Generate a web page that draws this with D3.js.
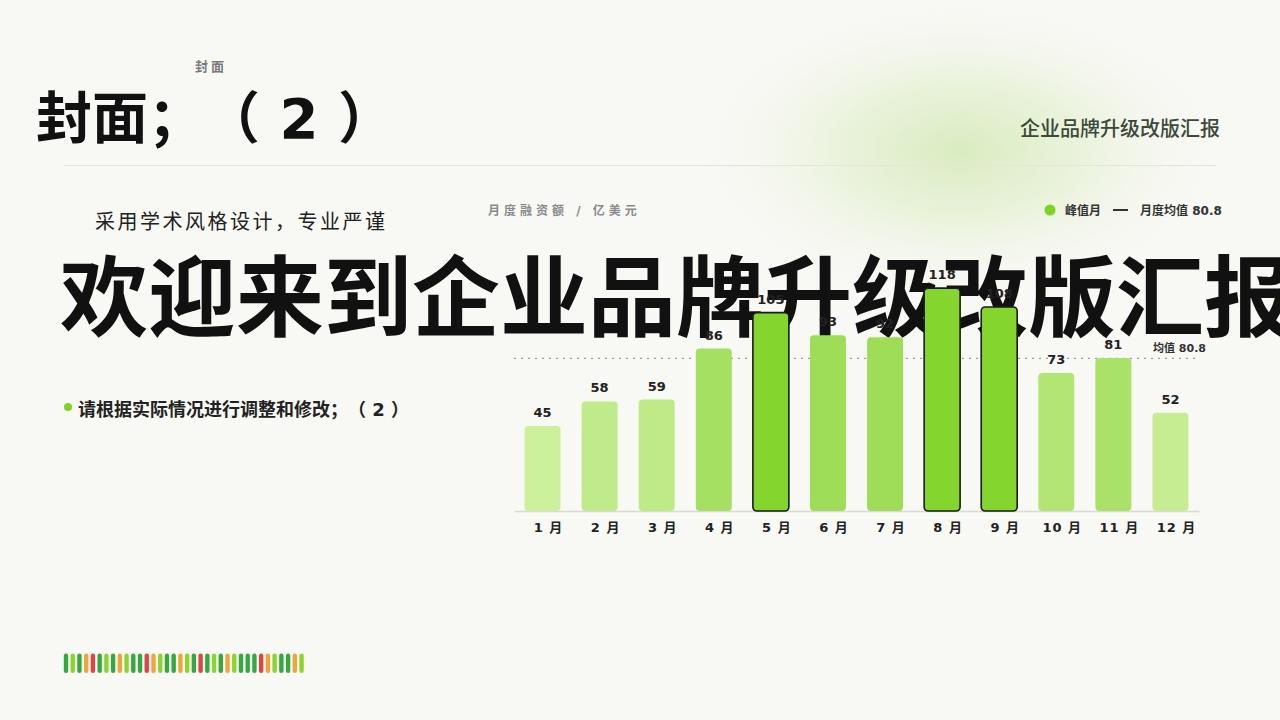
<!DOCTYPE html>
<html>
<head>
<meta charset="utf-8">
<script src="https://cdn.jsdelivr.net/npm/d3@7/dist/d3.min.js"></script>
<style>
  html, body { margin: 0; padding: 0; background: #f8f8f4; }
  svg { display: block; font-family: "DejaVu Sans", "Noto Sans CJK SC", sans-serif; text-spacing-trim: space-all; }
  svg text { text-spacing-trim: space-all; }
</style>
</head>
<body>
<svg id="c" width="1280" height="720"></svg>
<script>
const months = ["1 月","2 月","3 月","4 月","5 月","6 月","7 月","8 月","9 月","10 月","11 月","12 月"];
const values = [45, 58, 59, 86, 105, 93, 92, 118, 108, 73, 81, 52];
const peakMonths = ["5 月", "8 月", "9 月"];
const avgValue = 80.8;
const stripColors = ["dg","lg","dg","or","red","dg","lg","dg","or","lg","dg","dg","red","or","lg","dg","dg","or","lg","dg","red","dg","lg","dg","or","lg","dg","dg","dg","red","or","lg","dg","dg","or","lg"];

const svg = d3.select("#c");
const defs = svg.append("defs");

// background
svg.append("rect").attr("width", 1280).attr("height", 720).attr("fill", "#f8f8f4");

// glow
const rg = defs.append("radialGradient").attr("id", "glow");
rg.append("stop").attr("offset", "0%").attr("stop-color", "#d8ebbd").attr("stop-opacity", 0.95);
rg.append("stop").attr("offset", "45%").attr("stop-color", "#e3f0d0").attr("stop-opacity", 0.7);
rg.append("stop").attr("offset", "100%").attr("stop-color", "#f8f8f4").attr("stop-opacity", 0);
svg.append("ellipse").attr("cx", 960).attr("cy", 150).attr("rx", 265).attr("ry", 150).attr("fill", "url(#glow)");

// header
svg.append("text").attr("x", 211).attr("y", 66).attr("text-anchor", "middle").attr("dominant-baseline", "central")
  .attr("font-size", 13).attr("font-weight", 700).attr("fill", "#7a7a7a").attr("letter-spacing", 3).text("封面");
svg.append("text").attr("x", 36).attr("y", 118).attr("dominant-baseline", "central")
  .attr("font-size", 56).attr("font-weight", 700).attr("fill", "#111").text("封面；（ 2 ）");
svg.append("text").attr("x", 1220).attr("y", 129).attr("text-anchor", "end").attr("dominant-baseline", "central")
  .attr("font-size", 20).attr("font-weight", 500).attr("fill", "#3c4838").text("企业品牌升级改版汇报");
svg.append("line").attr("x1", 64).attr("x2", 1216).attr("y1", 165.5).attr("y2", 165.5)
  .attr("stroke", "#e3e5de").attr("stroke-width", 1.2);

svg.append("text").attr("x", 95).attr("y", 222).attr("dominant-baseline", "central")
  .attr("font-size", 20).attr("fill", "#222").attr("letter-spacing", 2.5).text("采用学术风格设计，专业严谨");

svg.append("text").attr("x", 60).attr("y", 329)
  .attr("font-size", 88).attr("font-weight", 700).attr("fill", "#111").text("欢迎来到企业品牌升级改版汇报");

svg.append("circle").attr("cx", 68).attr("cy", 407).attr("r", 4).attr("fill", "#7ed321");
svg.append("text").attr("x", 78).attr("y", 409).attr("dominant-baseline", "central")
  .attr("font-size", 18).attr("font-weight", 700).attr("fill", "#222").text("请根据实际情况进行调整和修改；（ 2 ）");

// colour strip
const stripMap = {dg: "#36a842", lg: "#8fd42d", or: "#eea53c", red: "#e04444"};
const sx = d3.scaleLinear().domain([0, stripColors.length - 1]).range([66, 66 + 6.73 * 35]);
svg.append("g").selectAll("rect").data(stripColors).join("rect")
  .attr("x", (d, i) => sx(i) - 2.2).attr("y", 653.5).attr("width", 4.4).attr("height", 19.5)
  .attr("rx", 2.2).attr("fill", d => stripMap[d]);

// chart
const x = d3.scaleBand().domain(months).range([514, 1199]).paddingInner(0.37).paddingOuter(0.185);
const y = d3.scaleLinear().domain([0, 135]).range([511, 256]);
const nonPeak = values.filter((v, i) => !peakMonths.includes(months[i]));
const col = d3.scaleLinear().domain([d3.min(nonPeak), d3.max(nonPeak)]).range(["#cdf09c", "#9edd58"]);

svg.append("text").attr("x", 488).attr("y", 211).attr("dominant-baseline", "central")
  .attr("font-size", 12).attr("font-weight", 700).attr("fill", "#8a8a8a").attr("letter-spacing", 4)
  .text("月度融资额 / 亿美元");

// legend
svg.append("circle").attr("cx", 1050).attr("cy", 210).attr("r", 5.5).attr("fill", "#7ed321");
svg.append("text").attr("x", 1065).attr("y", 211).attr("dominant-baseline", "central")
  .attr("font-size", 12).attr("font-weight", 700).attr("fill", "#333").text("峰值月");
svg.append("line").attr("x1", 1113).attr("x2", 1128).attr("y1", 210).attr("y2", 210)
  .attr("stroke", "#333").attr("stroke-width", 2);
svg.append("text").attr("x", 1140).attr("y", 211).attr("dominant-baseline", "central")
  .attr("font-size", 12).attr("font-weight", 700).attr("fill", "#333").text("月度均值 " + avgValue);

// axis
const ax = svg.append("g").attr("transform", "translate(0,511)")
  .call(d3.axisBottom(x).tickSize(0).tickPadding(12));
ax.select(".domain").attr("stroke", "#d9dbd4").attr("stroke-width", 1.5);
ax.selectAll("text").attr("font-size", 13).attr("font-weight", 700).attr("fill", "#222")
  .attr("font-family", "\"DejaVu Sans\", \"Noto Sans CJK SC\", sans-serif").attr("letter-spacing", 1)
  .attr("dx", 6);

// average line
svg.append("line").attr("x1", 514).attr("x2", 1200).attr("y1", y(avgValue)).attr("y2", y(avgValue))
  .attr("stroke", "#9a9a9a").attr("stroke-width", 1.2).attr("stroke-dasharray", "2,5");
svg.append("text").attr("x", 1153).attr("y", y(avgValue) - 10).attr("dominant-baseline", "central")
  .attr("font-size", 11).attr("font-weight", 700).attr("fill", "#333").text("均值 " + avgValue);

// bars
const data = months.map((m, i) => ({m, v: values[i], peak: peakMonths.includes(m)}));
svg.append("g").selectAll("rect").data(data).join("rect")
  .attr("x", d => x(d.m)).attr("y", d => y(d.v))
  .attr("width", x.bandwidth()).attr("height", d => y(0) - y(d.v))
  .attr("rx", 4)
  .attr("fill", d => d.peak ? "#84d62e" : col(d.v))
  .attr("stroke", d => d.peak ? "#1a1a1a" : "none")
  .attr("stroke-width", 1.6);

svg.append("g").selectAll("text").data(data).join("text")
  .attr("x", d => x(d.m) + x.bandwidth() / 2).attr("y", d => y(d.v) - 9)
  .attr("text-anchor", "middle").attr("font-size", 13).attr("font-weight", 700).attr("fill", "#222")
  .text(d => d.v);
</script>
</body>
</html>
